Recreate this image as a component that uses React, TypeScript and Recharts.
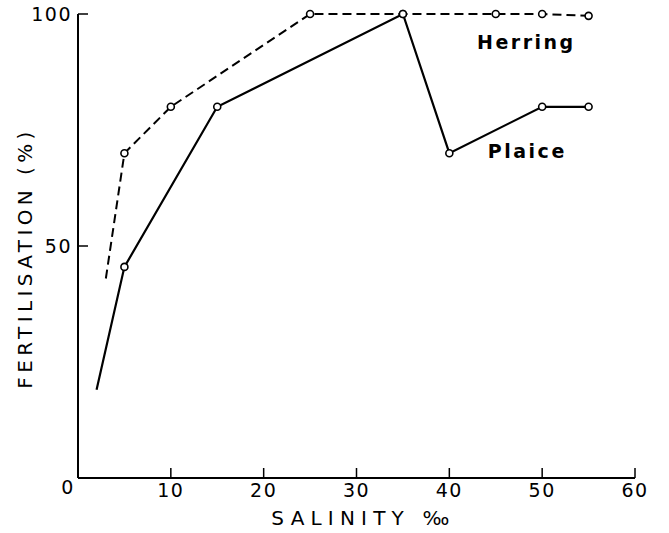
import { LineChart, Line, XAxis, YAxis, ReferenceDot } from "recharts";

const salinityTicks = [0, 10, 20, 30, 40, 50, 60];
const fertTicks = [50, 100];

const herringSalinity = [3, 5, 10, 25, 35, 45, 50, 55];
const herringFert = [43, 70, 80, 100, 100, 100, 100, 99.6];

const plaiceSalinity = [2, 5, 15, 35, 40, 50, 55];
const plaiceFert = [19, 45.5, 80, 100, 70, 80, 80];

const herringData = herringSalinity.map((s, i) => ({ s, v: herringFert[i] }));
const plaiceData = plaiceSalinity.map((s, i) => ({ s, v: plaiceFert[i] }));

const FONT = "'DejaVu Sans', sans-serif";

// first point of each curve has no circle in the original
const OpenDot = (props: any) => {
  const { cx, cy, index } = props;
  if (index === 0) return <g key={`d-${index}`} />;
  return <circle key={`d-${index}`} cx={cx} cy={cy} r={3.5} fill="#fff" stroke="#000" strokeWidth={1.6} />;
};

const XTick = ({ x, y, payload }: any) => {
  const zero = payload.value === 0;
  return (
    <text
      x={x + (zero ? -10 : 0)}
      y={y + (zero ? -3 : 0)}
      dy="0.71em"
      textAnchor="middle"
      fontFamily={FONT}
      fontSize={19}
      letterSpacing={1.5}
      fill="#000"
    >
      {payload.value}
    </text>
  );
};

const YLabel = ({ viewBox }: any) => {
  const cx = 25;
  const cy = viewBox.y + viewBox.height / 2 + 12;
  return (
    <text
      x={cx}
      y={cy}
      transform={`rotate(-90 ${cx} ${cy})`}
      textAnchor="middle"
      dominantBaseline="central"
      fontFamily={FONT}
      fontSize={20}
      letterSpacing={4.4}
      fill="#000"
    >
      FERTILISATION (%)
    </text>
  );
};

export default function App() {
  return (
    <div style={{ position: "absolute", left: 0, top: 0, width: 669, height: 533, background: "#fff" }}>
      <LineChart width={669} height={533} margin={{ top: 14, right: 34, left: 0, bottom: 0 }}>
        <XAxis
          type="number"
          dataKey="s"
          domain={[0, 60]}
          ticks={salinityTicks}
          allowDataOverflow
          axisLine={{ stroke: "#000", strokeWidth: 2 }}
          tickLine={{ stroke: "#000", strokeWidth: 1.5 }}
          tickSize={-10}
          tickMargin={16}
          tick={<XTick />}
          height={55}
          label={{
            value: "SALINITY ‰",
            position: "insideBottom",
            offset: 8,
            dx: 7,
            style: { fontFamily: FONT, fontSize: 20, letterSpacing: 6.2, fill: "#000" },
          }}
        />
        <YAxis
          type="number"
          domain={[0, 100]}
          ticks={fertTicks}
          width={78}
          axisLine={{ stroke: "#000", strokeWidth: 2 }}
          tickLine={{ stroke: "#000", strokeWidth: 1.5 }}
          tickSize={-10}
          tickMargin={16}
          tick={{ fontFamily: FONT, fontSize: 19, letterSpacing: 1.5, fill: "#000" }}
          label={<YLabel />}
        />
        <Line
          data={herringData}
          dataKey="v"
          type="linear"
          stroke="#000"
          strokeWidth={2}
          strokeDasharray="9 5"
          dot={OpenDot}
          activeDot={false}
          isAnimationActive={false}
        />
        <Line
          data={plaiceData}
          dataKey="v"
          type="linear"
          stroke="#000"
          strokeWidth={2.2}
          dot={OpenDot}
          activeDot={false}
          isAnimationActive={false}
        />
        <ReferenceDot
          x={48.3}
          y={94}
          r={0}
          fill="none"
          stroke="none"
          label={{
            value: "Herring",
            position: "center",
            style: { fontFamily: FONT, fontSize: 19, fontWeight: "bold", letterSpacing: 2.5, fill: "#000" },
          }}
        />
        <ReferenceDot
          x={48.4}
          y={70.5}
          r={0}
          fill="none"
          stroke="none"
          label={{
            value: "Plaice",
            position: "center",
            style: { fontFamily: FONT, fontSize: 19, fontWeight: "bold", letterSpacing: 2.5, fill: "#000" },
          }}
        />
      </LineChart>
    </div>
  );
}
